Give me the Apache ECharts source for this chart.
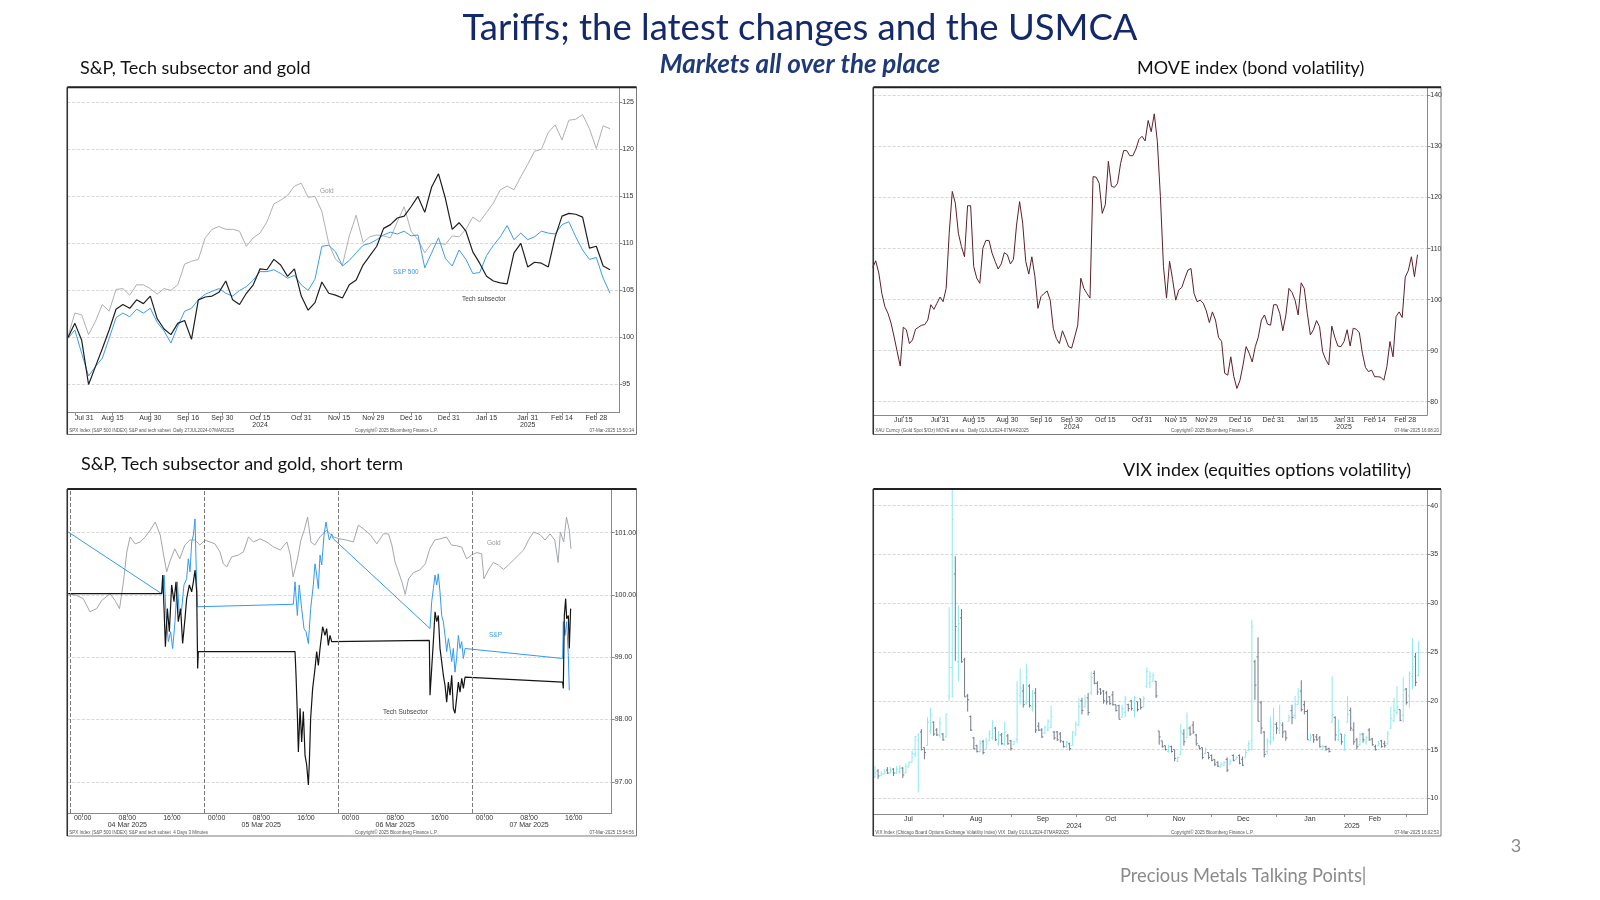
<!DOCTYPE html>
<html style="height: 100%">
<head>
<meta charset="utf-8">
</head>
<body style="height: 100%; margin: 0; background: #fff">
<div id="container" style="width: 1600px; height: 900px"></div>
<script src="https://cdn.jsdelivr.net/npm/echarts@6.0.0/dist/echarts.min.js"></script>
<script type="text/javascript">
// ---------- S&P, Tech subsector and gold (daily, one reading every 2nd weekday from 29 Jul 2024) ----------
var tlStep = 2;
var tlGold = [100.1, 102.6, 102.4, 100.3, 101.7, 103.5, 102.8, 105.1, 105.2, 104.5,
  105.6, 105.6, 105.2, 104.6, 105.2, 105.0, 105.6, 107.8, 108.1, 108.3,
  110.6, 111.5, 111.8, 111.5, 111.5, 111.3, 109.7, 110.6, 111.1, 112.3,
  114.2, 114.6, 115.1, 116.1, 116.4, 114.9, 115.0, 113.4, 110.0, 108.3,
  107.7, 110.8, 113.0, 110.1, 110.7, 110.9, 110.8, 110.6, 112.3, 113.9,
  111.3, 110.4, 109.0, 110.0, 110.0, 109.9, 110.8, 110.7, 111.5, 112.8,
  112.3, 113.3, 114.3, 115.7, 116.1, 115.7, 117.1, 118.4, 119.8, 120.0,
  121.8, 122.6, 121.0, 123.1, 123.2, 123.7, 122.2, 120.1, 122.5, 122.2];
var tlSpx = [99.9, 100.8, 98.3, 95.9, 96.9, 97.8, 99.9, 102.1, 102.6, 102.2,
  103.0, 102.6, 103.1, 101.6, 100.7, 99.4, 101.2, 102.8, 103.1, 104.0,
  104.6, 104.9, 105.2, 104.7, 104.4, 105.0, 105.4, 106.1, 107.0, 107.0,
  107.2, 106.8, 106.3, 106.6, 105.6, 105.0, 106.2, 109.7, 109.8, 109.1,
  107.6, 108.2, 109.0, 109.8, 110.0, 110.4, 110.9, 111.2, 111.0, 111.3,
  110.8, 110.9, 107.4, 109.0, 110.6, 108.4, 107.6, 109.3, 108.3, 106.8,
  106.9, 108.7, 109.8, 110.7, 111.9, 110.4, 111.1, 110.4, 110.7, 111.3,
  111.1, 111.0, 112.0, 112.3, 110.7, 109.3, 108.3, 108.5, 106.3, 104.7];
var tlTech = [100.0, 101.5, 99.7, 95.0, 96.9, 98.8, 100.8, 103.0, 103.5, 103.1,
  104.0, 103.6, 104.4, 102.0, 100.9, 100.3, 101.5, 101.8, 99.8, 104.0,
  104.3, 104.4, 104.8, 106.0, 104.0, 103.5, 104.7, 105.6, 107.3, 107.2,
  108.3, 107.7, 106.5, 107.3, 104.4, 102.9, 103.7, 105.9, 104.7, 104.5,
  104.2, 105.6, 106.1, 107.7, 108.7, 109.7, 111.6, 112.0, 112.7, 112.9,
  113.9, 115.0, 113.3, 116.0, 117.4, 114.8, 111.5, 112.2, 111.3, 109.1,
  107.9, 106.5, 106.0, 105.8, 105.7, 109.0, 110.0, 107.5, 108.0, 107.9,
  107.5, 110.7, 112.9, 113.2, 113.1, 112.8, 109.5, 109.7, 107.6, 107.2];
var tlTickIdx = [2, 13, 24, 35, 45, 56, 68, 79, 89, 100, 111, 122, 134, 144, 154];
var tlTickLbl = ['Jul 31', 'Aug 15', 'Aug 30', 'Sep 16', 'Sep 30', 'Oct 15\n2024', 'Oct 31', 'Nov 15',
  'Nov 29', 'Dec 16', 'Dec 31', 'Jan 15', 'Jan 31\n2025', 'Feb 14', 'Feb 28'];
var tlYTicks = [95, 100, 105, 110, 115, 120, 125];

// ---------- MOVE index (daily weekdays from 1 Jul 2024) ----------
var moveVals = [106.3, 107.6, 105.2, 101.2, 98.6, 97.3, 95.4, 92.7, 89.8, 87.0,
  94.6, 94.1, 91.4, 92.1, 94.2, 94.6, 95.0, 95.1, 96.0, 99.0,
  98.1, 99.3, 100.5, 99.6, 102.2, 113.0, 121.2, 118.9, 113.0, 110.4,
  108.4, 118.4, 118.4, 106.5, 104.2, 103.2, 110.1, 111.6, 111.6, 109.1,
  107.5, 106.0, 107.0, 109.2, 108.8, 107.0, 107.9, 114.6, 119.2, 115.0,
  107.5, 105.0, 108.4, 104.5, 98.3, 100.6, 101.2, 101.7, 99.9, 94.4,
  92.4, 91.4, 93.9, 92.4, 90.8, 90.5, 92.7, 95.0, 104.2, 102.2,
  101.2, 100.3, 124.1, 124.0, 122.8, 116.9, 118.6, 127.1, 122.2, 122.0,
  122.8, 126.7, 129.2, 129.2, 128.2, 128.2, 129.5, 131.4, 132.0, 131.1,
  135.1, 132.9, 136.4, 131.0, 120.2, 106.5, 100.3, 107.5, 103.9, 99.9,
  101.9, 102.4, 104.2, 105.8, 106.1, 101.2, 99.6, 99.9, 99.3, 97.8,
  95.5, 97.6, 96.0, 92.6, 91.8, 85.6, 85.2, 88.8, 84.9, 82.6,
  84.2, 87.2, 90.8, 89.5, 87.8, 90.8, 92.7, 96.0, 97.0, 95.2,
  95.0, 99.0, 99.0, 97.3, 93.9, 97.0, 102.2, 101.4, 99.9, 97.0,
  103.3, 102.2, 97.3, 93.1, 94.1, 95.9, 94.7, 89.8, 88.3, 87.2,
  94.8, 92.6, 90.9, 90.8, 91.8, 94.1, 90.9, 94.4, 94.2, 93.5,
  89.5, 86.7, 85.9, 86.2, 84.9, 84.9, 84.8, 84.2, 86.9, 91.8,
  88.8, 96.7, 97.6, 96.5, 104.4, 105.7, 108.4, 104.5, 108.8];
var moveTickIdx = [10, 22, 33, 44, 55, 65, 76, 88, 99, 109, 120, 131, 142, 154, 164, 174];
var moveTickLbl = ['Jul 15', 'Jul 31', 'Aug 15', 'Aug 30', 'Sep 16', 'Sep 30\n2024', 'Oct 15', 'Oct 31',
  'Nov 15', 'Nov 29', 'Dec 16', 'Dec 31', 'Jan 15', 'Jan 31\n2025', 'Feb 14', 'Feb 28'];
var moveYTicks = [80, 90, 100, 110, 120, 130, 140];

// ---------- Short term: hours from 04 Mar 2025 00:00, [hour, value] ----------
var stGold = [[-2.6,100.02],[-1.1,99.99],[0.1,99.94],[1.3,99.73],[2.5,99.78],[3.4,99.91],[4.9,100.02],
  [5.8,99.91],[6.6,99.78],[7.3,100.21],[7.9,100.69],[8.5,100.93],[9.4,100.82],[10.3,100.85],[11.2,100.93],
  [12.1,101.04],[13.0,101.17],[13.9,100.96],[14.5,100.64],[15.05,100.37],[15.6,100.53],[16.5,100.74],
  [17.4,100.58],[18.3,100.80],[19.2,100.88],[20.1,100.88],[21.0,100.80],[21.9,100.88],[22.8,100.85],
  [23.7,100.82],[24.6,100.69],[25.2,100.50],[25.8,100.45],[26.7,100.61],[27.9,100.64],[28.8,100.69],
  [29.7,100.93],[30.6,100.85],[31.8,100.90],[33.0,100.85],[34.2,100.77],[35.4,100.72],[36.6,100.85],
  [37.2,100.64],[37.7,100.29],[38.5,100.58],[39.1,100.88],[39.7,101.04],[40.3,101.25],[40.9,100.85],
  [41.6,100.80],[42.5,100.93],[43.7,101.04],[44.9,100.93],[46.1,100.90],[47.3,100.88],[48.5,100.85],
  [49.4,101.12],[50.3,101.06],[51.5,100.97],[52.7,100.82],[53.9,100.98],[54.8,100.98],[55.4,100.80],
  [56.0,100.52],[56.6,100.37],[57.2,100.21],[57.8,100.01],[58.4,100.26],[59.3,100.36],[60.4,100.40],
  [61.4,100.50],[62.2,100.74],[63.1,100.88],[64.0,100.90],[65.2,100.93],[66.1,100.80],[67.0,100.79],
  [67.9,100.77],[68.8,100.58],[69.7,100.64],[70.6,100.68],[71.5,100.66],[71.9,100.26],[72.7,100.40],
  [73.6,100.52],[74.5,100.48],[75.4,100.41],[76.3,100.48],[77.2,100.56],[78.1,100.64],[79.0,100.72],
  [79.9,100.88],[80.8,101.01],[81.95,100.97],[82.85,100.88],[83.75,100.98],[84.6,100.88],[85.2,100.52],
  [85.6,101.01],[86.2,100.85],[86.7,101.25],[87.2,101.04],[87.5,100.74]];
var stSpx = [[-2.6,101.01],[14.15,100.02],[14.6,100.32],[14.93,99.67],[15.35,99.25],[15.76,99.41],
  [16.12,99.14],[16.54,99.57],[16.96,100.21],[17.32,99.67],[17.74,99.78],[18.15,100.16],[18.63,100.26],
  [18.93,100.58],[19.23,100.37],[19.53,100.85],[19.83,100.96],[20.13,101.22],[20.3,100.58],[20.54,99.81],
  [37.75,99.85],[38.05,100.21],[38.47,99.67],[38.8,100.16],[39.24,99.78],[39.66,99.46],[40.02,99.41],
  [40.44,99.22],[40.85,99.78],[41.33,100.16],[41.63,100.50],[41.93,100.32],[42.23,100.10],[42.53,100.64],
  [42.83,100.48],[43.25,100.96],[43.6,101.17],[43.84,101.04],[44.2,100.88],[44.62,100.98],[44.92,100.90],
  [62.24,99.46],[62.54,99.89],[62.84,100.10],[63.14,100.32],[63.44,100.16],[63.73,100.34],[64.03,100.05],
  [64.33,99.67],[64.63,99.57],[64.93,99.35],[65.23,99.09],[65.53,99.30],[65.83,99.14],[66.13,98.93],
  [66.42,99.14],[66.72,98.76],[67.02,99.00],[67.32,99.35],[67.62,99.14],[67.92,99.25],[68.22,98.98],
  [68.52,99.14],[86.01,98.98],[86.13,99.57],[86.43,99.35],[86.73,99.57],[87.03,99.03],[87.2,98.47]];
var stTech = [[-2.6,100.02],[14.15,100.02],[14.34,100.32],[14.58,99.78],[14.82,99.17],[15.17,99.78],
  [15.53,99.41],[15.94,100.16],[16.36,99.89],[16.72,100.21],[17.13,99.57],[17.55,99.78],[17.91,99.22],
  [18.33,99.62],[18.63,99.94],[19.11,100.16],[19.53,100.05],[19.83,100.21],[20.13,100.40],[20.43,100.05],
  [20.6,98.82],[20.72,99.09],[38.05,99.09],[38.23,98.71],[38.47,98.07],[38.65,97.48],[38.95,98.18],
  [39.24,97.64],[39.54,98.13],[39.84,97.43],[40.14,97.27],[40.44,96.95],[40.62,97.32],[40.85,98.02],
  [41.21,98.50],[41.63,98.82],[41.93,99.09],[42.23,98.87],[42.53,99.14],[43.0,99.49],[43.42,99.35],
  [43.72,99.46],[44.02,99.19],[44.32,99.35],[44.62,99.25],[44.92,99.27],[62.12,99.27],[62.24,98.39],
  [62.54,98.82],[62.84,99.25],[63.14,99.73],[63.44,99.57],[63.73,99.67],[64.03,99.14],[64.33,98.93],
  [64.63,98.71],[64.93,98.55],[65.23,98.28],[65.53,98.60],[65.83,98.39],[66.13,98.71],[66.42,98.18],
  [66.72,98.10],[67.02,98.07],[67.32,98.60],[67.62,98.44],[67.92,98.66],[68.22,98.50],[68.52,98.68],
  [86.01,98.60],[86.13,98.50],[86.31,99.67],[86.55,99.94],[86.73,99.62],[87.03,99.67],[87.2,99.14],[87.44,99.78]];
var stSepHours = [-2.2, 21.8, 45.8, 69.8];
var stTickHours = [0, 8, 16, 24, 32, 40, 48, 56, 64, 72, 80, 88];
var stTickLbl = ['00:00', '08:00\n04 Mar 2025', '16:00', '00:00', '08:00\n05 Mar 2025', '16:00',
  '00:00', '08:00\n06 Mar 2025', '16:00', '00:00', '08:00\n07 Mar 2025', '16:00'];
var stYTicks = [97, 98, 99, 100, 101];

// ---------- VIX daily bars: [open, close, low, high] ----------
var vixBars = [
  [12.2,12.6,12.1,13.3],[12.8,12.3,12.0,13.0],[12.3,12.5,12.3,12.8],[12.5,12.7,12.5,13.0],[12.9,12.6,12.5,13.2],
  [12.6,12.9,12.6,13.2],[13.0,12.6,12.3,13.1],[12.6,13.0,12.5,13.3],[12.7,13.1,12.5,13.4],[13.1,12.4,12.1,13.2],
  [12.6,13.3,12.6,13.6],[13.2,13.7,13.2,13.8],[13.7,14.6,13.7,14.9],[14.5,16.3,14.2,16.4],[16.0,16.5,10.6,16.7],
  [16.8,15.0,14.9,17.1],[15.2,14.7,14.0,15.2],[15.4,17.8,15.4,18.3],[16.9,18.5,16.6,19.3],[17.8,16.6,16.4,17.9],
  [17.0,16.5,16.4,17.2],[16.5,17.7,16.2,18.3],[16.6,16.0,15.9,16.7],[16.3,18.6,16.2,18.7],[20.5,23.4,20.0,29.6],
  [23.4,38.6,20.3,65.7],[33.0,27.6,24.1,34.8],[24.0,27.9,22.0,29.8],[28.5,24.0,23.9,29.4],[24.2,20.4,20.4,24.4],
  [20.5,20.1,18.9,20.7],[18.4,17.0,16.9,18.5],[16.2,15.1,15.0,16.3],[15.4,14.8,14.7,15.5],[14.8,15.6,14.7,16.0],
  [15.8,14.7,14.5,16.0],[15.0,15.8,15.0,16.2],[15.9,16.6,15.9,17.0],[16.2,17.8,16.0,18.0],[17.2,16.0,15.9,17.3],
  [15.6,16.5,15.4,16.9],[16.5,15.6,15.5,16.7],[15.5,16.8,15.4,17.9],[16.4,15.6,15.5,16.6],[15.9,15.1,14.9,16.0],
  [15.5,15.8,15.5,15.9],[16.0,20.7,15.7,22.0],[20.5,21.3,19.6,23.3],[21.0,19.6,19.3,21.7],[19.8,22.4,19.6,23.8],
  [21.5,19.5,19.3,21.7],[19.4,19.9,18.9,21.1],[20.8,17.0,16.7,21.3],[17.4,17.0,16.9,17.8],[17.0,16.3,16.2,17.2],
  [16.7,17.3,16.6,17.4],[17.0,17.9,16.9,18.1],[17.3,18.4,17.2,19.5],[16.8,16.2,16.0,16.9],[16.8,16.0,15.9,16.9],
  [16.6,15.9,15.7,16.8],[15.8,15.3,15.2,15.9],[15.3,15.7,15.2,15.9],[15.6,15.1,14.9,15.7],[15.4,16.8,15.4,16.9],
  [16.6,17.6,16.4,17.9],[17.5,19.4,17.4,20.3],[20.0,19.0,18.6,20.3],[19.4,19.9,19.3,20.6],[20.3,18.8,18.5,20.8],
  [20.8,22.4,20.6,23.0],[22.8,21.8,21.7,23.1],[21.8,20.9,20.6,22.0],[21.2,20.8,20.6,21.3],[21.0,20.0,19.7,21.1],
  [20.8,19.9,19.6,21.0],[20.4,19.7,19.6,20.5],[20.6,19.6,19.5,21.0],[19.6,19.0,18.9,19.6],[19.5,18.1,18.1,19.6],
  [18.3,19.2,18.3,19.6],[18.8,20.2,18.3,20.5],[19.6,19.2,18.9,19.7],[20.0,19.2,19.0,20.1],[19.0,20.3,18.3,20.5],
  [19.9,19.1,18.9,19.9],[20.2,19.3,19.1,20.2],[19.4,20.2,19.3,20.5],[21.5,23.0,21.3,23.4],[21.8,22.5,21.3,23.0],
  [22.0,22.6,22.0,22.9],[22.0,20.5,20.3,22.0],[16.9,16.3,15.5,16.9],[15.9,15.3,15.2,15.9],[15.4,15.0,14.9,15.4],
  [14.8,15.3,14.7,15.5],[15.3,14.8,14.7,15.4],[15.0,14.1,13.8,15.0],[13.8,14.2,13.7,14.3],[14.5,16.8,14.5,17.6],
  [16.6,15.8,15.4,17.1],[16.2,17.2,16.2,18.8],[17.2,16.6,16.4,17.4],[17.5,16.8,16.6,17.9],[16.5,15.6,15.4,16.6],
  [15.4,15.1,15.0,15.4],[15.2,14.2,14.0,15.2],[14.6,15.0,14.5,15.2],[14.7,14.2,14.0,14.7],[14.4,13.9,13.8,14.5],
  [14.0,13.5,13.3,14.0],[13.7,13.3,13.2,13.8],[13.2,13.5,13.2,13.7],[13.4,13.7,13.3,13.8],[14.0,12.9,12.7,14.2],
  [13.5,13.8,13.5,14.0],[14.4,13.9,13.8,14.5],[14.0,14.2,14.0,14.3],[14.4,13.6,13.5,14.5],[14.0,13.4,13.3,14.3],
  [14.2,14.7,14.2,15.0],[14.9,15.6,14.9,15.9],[15.9,27.6,14.9,28.3],[24.0,21.6,20.1,24.2],[24.5,17.9,17.9,26.5],
  [19.8,17.2,16.6,20.0],[16.8,14.5,14.2,16.9],[14.8,15.9,14.5,16.2],[15.8,17.4,15.5,18.4],[16.2,17.6,15.9,19.3],
  [17.6,17.2,16.6,17.8],[17.0,17.7,16.6,19.6],[17.5,16.8,16.2,17.8],[16.9,16.2,15.9,16.9],[17.9,18.3,17.9,18.6],
  [19.0,18.3,17.6,19.6],[18.5,19.6,18.1,20.5],[19.6,20.4,19.6,21.3],[21.0,19.1,18.9,22.1],[19.6,18.9,18.6,20.0],
  [18.9,16.0,16.0,19.1],[15.9,16.3,15.9,16.6],[16.5,16.0,15.7,16.6],[16.3,16.0,15.9,16.6],[16.2,15.3,15.2,16.4],
  [15.0,15.3,14.9,15.5],[15.3,15.0,14.9,15.4],[15.1,14.8,14.7,15.2],[17.8,18.6,17.8,22.5],[18.3,16.5,15.9,18.4],
  [16.0,17.0,15.9,18.1],[16.6,15.8,15.5,16.6],[15.0,16.4,14.9,16.6],[17.8,18.6,17.8,20.5],[19.0,17.2,16.9,19.3],
  [17.0,15.8,15.5,17.8],[16.0,15.3,15.0,16.2],[15.5,16.5,15.4,16.7],[16.6,16.0,15.7,16.7],[15.8,16.2,15.5,16.4],
  [17.0,16.0,15.9,17.2],[16.1,15.5,15.4,16.2],[15.3,15.0,14.9,15.5],[15.4,15.6,15.4,15.9],[15.9,15.3,15.2,16.0],
  [15.6,15.4,15.2,15.9],[15.6,16.6,15.5,16.9],[17.2,18.2,17.1,19.4],[18.0,19.0,17.8,20.3],[18.8,19.4,18.6,21.5],
  [19.1,18.0,17.9,19.1],[18.5,21.1,17.8,22.4],[21.2,19.8,19.6,21.3],[20.5,22.8,19.3,23.0],[22.5,23.5,21.2,26.4],
  [24.5,21.9,21.5,24.9],[22.6,24.9,22.5,26.1]];
var vixMonthStart = [22, 44, 65, 88, 109, 130, 152, 172];
var vixLblPos = [10.8, 32.7, 54.3, 64.4, 76.3, 98.4, 119.2, 140.8, 154.4, 161.8];
var vixLbl = ['Jul', 'Aug', 'Sep', '\n2024', 'Oct', 'Nov', 'Dec', 'Jan', '\n2025', 'Feb'];
var vixYTicks = [10, 15, 20, 25, 30, 35, 40];

var dom = document.getElementById('container');
var myChart = echarts.init(dom);

var smallFont = 'Liberation Sans';
var slideFont = 'Lato';

function lookup(vals, labels) {
  return function (v) {
    for (var i = 0; i < vals.length; i++) {
      if (Math.abs(vals[i] - v) < 1e-6) return labels[i];
    }
    return '';
  };
}

function xAxisOf(gi, min, max, tickVals, lblVals, lbls, alignFirst) {
  var lab = { customValues: lblVals, formatter: lookup(lblVals, lbls), fontSize: 7, lineHeight: 7,
    color: '#333', margin: 2, fontFamily: smallFont };
  if (alignFirst) lab.alignMinLabel = 'left';
  return {
    type: 'value', gridIndex: gi, min: min, max: max,
    axisLine: { show: true, onZero: false, lineStyle: { color: '#8a8a8a', width: 1 } },
    axisTick: { show: true, customValues: tickVals, length: 3, lineStyle: { color: '#8a8a8a' } },
    axisLabel: lab,
    splitLine: { show: false }
  };
}

function yAxisOf(gi, min, max, ticks, digits) {
  return {
    type: 'value', gridIndex: gi, position: 'right', min: min, max: max,
    axisLine: { show: true, onZero: false, lineStyle: { color: '#8a8a8a', width: 1 } },
    axisTick: { show: true, customValues: ticks, length: 3, lineStyle: { color: '#8a8a8a' } },
    axisLabel: { customValues: ticks, fontSize: 7, color: '#333', margin: 3, fontFamily: smallFont,
      formatter: function (v) { return v.toFixed(digits); } },
    splitLine: { show: true, lineStyle: { type: 'dashed', color: '#cfcfcf', width: 0.8 } }
  };
}

function lineSeries(name, xi, data, color, width) {
  return {
    name: name, type: 'line', xAxisIndex: xi, yAxisIndex: xi, data: data,
    showSymbol: false, symbol: 'none', animation: false,
    lineStyle: { color: color, width: width || 1 }, itemStyle: { color: color }
  };
}

function daily(arr, step) {
  return arr.map(function (v, k) { return [k * step, v]; });
}

var vixUp = '#8be8ee';
var vixDown = '#707a88';
function renderBar(params, api) {
  var x = api.value(0), o = api.value(1), c = api.value(2), l = api.value(3), h = api.value(4);
  var pl = api.coord([x, l]), ph = api.coord([x, h]);
  var po = api.coord([x, o]), pc = api.coord([x, c]);
  var col = c >= o ? vixUp : vixDown;
  return {
    type: 'group',
    children: [
      { type: 'line', shape: { x1: pl[0], y1: pl[1], x2: ph[0], y2: ph[1] }, style: { stroke: col, lineWidth: 1 } },
      { type: 'line', shape: { x1: po[0] - 1.5, y1: po[1], x2: po[0], y2: po[1] }, style: { stroke: col, lineWidth: 1 } },
      { type: 'line', shape: { x1: pc[0], y1: pc[1], x2: pc[0] + 1.5, y2: pc[1] }, style: { stroke: col, lineWidth: 1 } }
    ]
  };
}

function txt(x, y, s, size, color, extra) {
  var st = { text: s, fill: color, fontSize: size, fontFamily: smallFont,
    align: 'left', verticalAlign: 'middle', textAlign: 'left', textVerticalAlign: 'middle' };
  if (extra) { for (var k in extra) st[k] = extra[k]; }
  return { type: 'text', x: x, y: y, silent: true, style: st, z: 10 };
}

function frame(x, y, w, h) {
  return [
    { type: 'rect', shape: { x: x, y: y, width: w, height: h }, style: { fill: 'none', stroke: '#7a7a7a', lineWidth: 1 }, z: 5 },
    { type: 'line', shape: { x1: x, y1: y, x2: x + w, y2: y }, style: { stroke: '#222', lineWidth: 2 }, z: 6 },
    { type: 'line', shape: { x1: x, y1: y, x2: x, y2: y + h }, style: { stroke: '#333', lineWidth: 1.5 }, z: 6 }
  ];
}

function footer(x0, xm, x1, y, a, b, c) {
  return [
    txt(x0 + 2, y, a, 4.5, '#555'),
    txt(xm, y, b, 4.5, '#555'),
    txt(x1, y, c, 4.5, '#555', { align: 'right', textAlign: 'right' })
  ];
}

var graphics = [].concat(
  frame(67.3, 87.3, 569.2, 347.2),
  frame(873.3, 87.3, 567.7, 347.2),
  frame(67.3, 489, 569.2, 347),
  frame(873.3, 489, 567.7, 347),
  [
    txt(800, 28.5, 'Tariffs; the latest changes and the USMCA', 36.5, '#13296b',
      { fontFamily: slideFont, align: 'center', textAlign: 'center' }),
    txt(800, 64.5, 'Markets all over the place', 26, '#1f3a7a',
      { fontFamily: slideFont, fontWeight: 'bold', fontStyle: 'italic', align: 'center', textAlign: 'center' }),
    txt(80, 68, 'S&P, Tech subsector and gold', 18, '#111', { fontFamily: slideFont }),
    txt(1137, 68, 'MOVE index (bond volatility)', 18, '#111', { fontFamily: slideFont }),
    txt(81, 464, 'S&P, Tech subsector and gold, short term', 18, '#111', { fontFamily: slideFont }),
    txt(1123, 470, 'VIX index (equities options volatility)', 18, '#111', { fontFamily: slideFont }),
    txt(1516, 846, '3', 18, '#8a8a8a', { fontFamily: slideFont, align: 'center', textAlign: 'center' }),
    txt(1120, 876, 'Precious Metals Talking Points|', 18.3, '#8a8a8a', { fontFamily: slideFont }),
    txt(320, 191, 'Gold', 6.5, '#9a9a9a'),
    txt(393, 272, 'S&P 500', 6.5, '#3b9bf0'),
    txt(462, 299, 'Tech subsector', 6.5, '#444'),
    txt(487, 543, 'Gold', 6.5, '#9a9a9a'),
    txt(489, 635, 'S&P', 6.5, '#3b9bf0'),
    txt(383, 712, 'Tech Subsector', 6.5, '#444')
  ],
  footer(67.3, 355, 634, 430.5, 'SPX Index (S&P 500 INDEX) S&P and tech subset  Daily 27JUL2024-07MAR2025',
    'Copyright\u00a9 2025 Bloomberg Finance L.P.', '07-Mar-2025 15:50:34'),
  footer(873.3, 1171, 1439, 430.5, 'XAU Curncy (Gold Spot $/Oz) MOVE and su.  Daily 01JUL2024-07MAR2025',
    'Copyright\u00a9 2025 Bloomberg Finance L.P.', '07-Mar-2025 16:08:20'),
  footer(67.3, 355, 634, 832.5, 'SPX Index (S&P 500 INDEX) S&P and tech subset  4 Days 3 Minutes',
    'Copyright\u00a9 2025 Bloomberg Finance L.P.', '07-Mar-2025 15:54:56'),
  footer(873.3, 1171, 1439, 832.5, 'VIX Index (Chicago Board Options Exchange Volatility Index) VIX  Daily 01JUL2024-07MAR2025',
    'Copyright\u00a9 2025 Bloomberg Finance L.P.', '07-Mar-2025 16:02:53')
);

var goldShort = lineSeries('Gold', 2, stGold, '#a3a7ab', 1);
goldShort.markLine = {
  silent: true, symbol: 'none', animation: false, label: { show: false },
  lineStyle: { type: 'dashed', color: '#7a7a7a', width: 1 },
  data: stSepHours.map(function (h) { return { xAxis: h }; })
};

option = {
  backgroundColor: '#ffffff',
  animation: false,
  grid: [
    { left: 67.3, top: 87.3, width: 552, height: 325.4 },
    { left: 873.3, top: 87.3, width: 554, height: 327.7 },
    { left: 67.3, top: 489, width: 544.4, height: 324 },
    { left: 873.3, top: 489, width: 554, height: 325 }
  ],
  xAxis: [
    xAxisOf(0, -0.2, 160.7, tlTickIdx, tlTickIdx, tlTickLbl, true),
    xAxisOf(1, 0.2, 181.2, moveTickIdx, moveTickIdx, moveTickLbl, false),
    xAxisOf(2, -2.76, 94.8, stTickHours, stTickHours, stTickLbl, false),
    xAxisOf(3, -0.55, 178.8, vixMonthStart, vixLblPos, vixLbl, false)
  ],
  yAxis: [
    yAxisOf(0, 92.0, 126.6, tlYTicks, 0),
    yAxisOf(1, 77.4, 141.6, moveYTicks, 0),
    yAxisOf(2, 96.5, 101.7, stYTicks, 2),
    yAxisOf(3, 8.4, 41.7, vixYTicks, 0)
  ],
  graphic: graphics,
  series: [
    lineSeries('Gold', 0, daily(tlGold, tlStep), '#b0b0b0', 1),
    lineSeries('S&P 500', 0, daily(tlSpx, tlStep), '#3b9bf0', 1),
    lineSeries('Tech subsector', 0, daily(tlTech, tlStep), '#1e1e1e', 1.2),
    lineSeries('MOVE', 1, daily(moveVals, 1), '#5c1f2b', 1),
    goldShort,
    lineSeries('S&P', 2, stSpx, '#3399f5', 1),
    lineSeries('Tech Subsector', 2, stTech, '#141414', 1.2),
    {
      name: 'VIX', type: 'custom', xAxisIndex: 3, yAxisIndex: 3, clip: true, animation: false,
      renderItem: renderBar,
      encode: { x: 0, y: [1, 2, 3, 4] },
      data: vixBars.map(function (r, i) { return [i, r[0], r[1], r[2], r[3]]; })
    }
  ]
};

if (option && typeof option === 'object') {
  myChart.setOption(option, true);
}
</script>
</body>
</html>
